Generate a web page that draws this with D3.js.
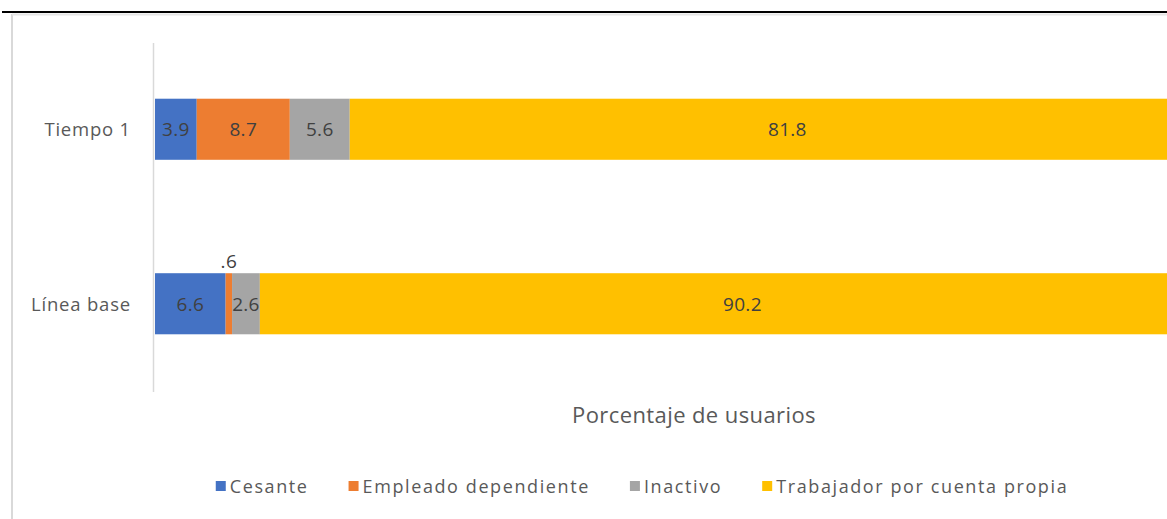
<!DOCTYPE html>
<html>
<head>
<meta charset="utf-8">
<script src="https://cdn.jsdelivr.net/npm/d3@7"></script>
<style>
  body { margin: 0; background: #fff; }
  svg { display: block; font-family: "Open Sans", "Noto Sans", sans-serif; }
</style>
</head>
<body>
<div id="chart"></div>
<script>
// --- DATA ---
const categories = ["Tiempo 1", "Línea base"];
const seriesNames = ["Cesante", "Empleado dependiente", "Inactivo", "Trabajador por cuenta propia"];
const cesante = [3.9, 6.6];
const empleado = [8.7, 0.6];
const inactivo = [5.6, 2.6];
const trabajador = [81.8, 90.2];
const labels = [["3.9", "6.6"], ["8.7", ".6"], ["5.6", "2.6"], ["81.8", "90.2"]];
const colors = ["#4472C4", "#ED7D31", "#A5A5A5", "#FFC000"];
const xTitle = "Porcentaje de usuarios";

const W = 1167, H = 519;

const svg = d3.select("#chart").append("svg")
    .attr("width", W)
    .attr("height", H);

// frame
svg.append("line").attr("x1", 12).attr("x2", 12).attr("y1", 14).attr("y2", H)
    .attr("stroke", "#d9d9d9").attr("stroke-width", 2);
svg.append("line").attr("x1", 12).attr("x2", W).attr("y1", 14.5).attr("y2", 14.5)
    .attr("stroke", "#e6e6e6").attr("stroke-width", 2);
svg.append("line").attr("x1", 2).attr("x2", W).attr("y1", 12).attr("y2", 12)
    .attr("stroke", "#000").attr("stroke-width", 2);

// scales
const x = d3.scaleLinear().domain([0, 100]).range([155, 1225]);
const y = d3.scaleBand().domain(categories).range([42, 391])
    .paddingInner(0.65).paddingOuter(0.325);

// stack
const rows = categories.map((c, i) => ({
    cat: c,
    "Cesante": cesante[i],
    "Empleado dependiente": empleado[i],
    "Inactivo": inactivo[i],
    "Trabajador por cuenta propia": trabajador[i]
}));
const stacked = d3.stack().keys(seriesNames)(rows);

const g = svg.append("g");
stacked.forEach((s, si) => {
    g.selectAll(null).data(s).join("rect")
        .attr("x", d => x(d[0]))
        .attr("y", d => y(d.data.cat))
        .attr("width", d => x(d[1]) - x(d[0]))
        .attr("height", y.bandwidth())
        .attr("fill", colors[si]);
});

// data labels (tiny segments get their label above the bar)
stacked.forEach((s, si) => {
    g.selectAll(null).data(s).join("text")
        .attr("x", d => (x(d[0]) + x(d[1])) / 2)
        .attr("y", d => (d[1] - d[0]) < 1.5 ? y(d.data.cat) - 5 : y(d.data.cat) + y.bandwidth() / 2 + 7)
        .attr("text-anchor", "middle")
        .attr("font-size", 19)
        .attr("letter-spacing", 0.3)
        .attr("fill", "#404040")
        .text((d, i) => labels[si][i]);
});

// y axis line + labels
svg.append("line").attr("x1", 153.5).attr("x2", 153.5).attr("y1", 43).attr("y2", 392)
    .attr("stroke", "#d9d9d9").attr("stroke-width", 1.5);
svg.selectAll(".cat").data(categories).join("text")
    .attr("x", 131)
    .attr("y", d => y(d) + y.bandwidth() / 2 + 7)
    .attr("text-anchor", "end")
    .attr("font-size", 18.5)
    .attr("letter-spacing", 0.8)
    .attr("fill", "#595959")
    .text(d => d);

// axis title
svg.append("text")
    .attr("x", 694).attr("y", 423)
    .attr("text-anchor", "middle")
    .attr("font-size", 22)
    .attr("letter-spacing", 0.4)
    .attr("fill", "#595959")
    .text(xTitle);

// legend
const legend = svg.append("g");
const items = legend.selectAll("g").data(seriesNames).join("g");
items.append("rect").attr("width", 10).attr("height", 10).attr("y", -12)
    .attr("fill", (d, i) => colors[i]);
items.append("text").attr("x", 14).attr("y", 0)
    .attr("font-size", 18)
    .attr("letter-spacing", 1.6)
    .attr("fill", "#595959")
    .text(d => d);
let cx = 0;
const gap = 40;
items.each(function () {
    const w = this.getBBox().width;
    d3.select(this).attr("transform", `translate(${cx},0)`);
    cx += w + gap;
});
const total = cx - gap;
legend.attr("transform", `translate(${642 - total / 2},493)`);
</script>
</body>
</html>
